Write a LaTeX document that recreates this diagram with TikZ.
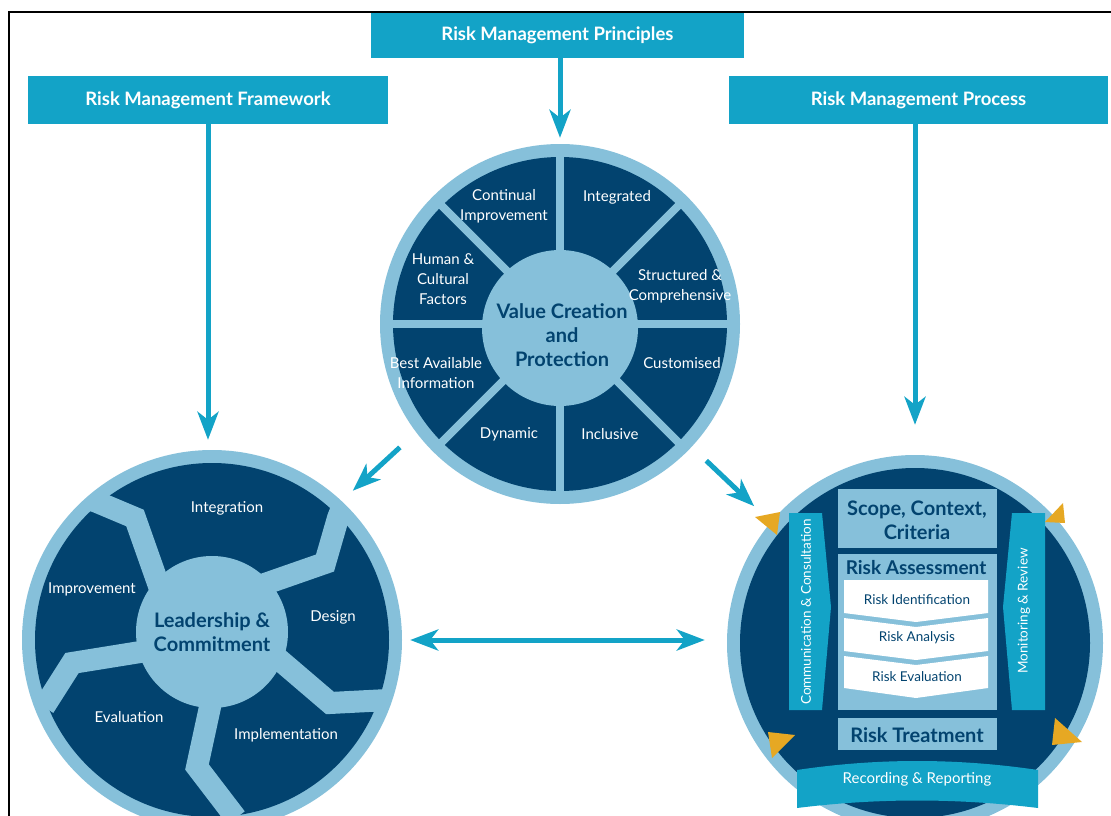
\documentclass[tikz,border=0pt]{standalone}
\usepackage{fontspec}
\setmainfont{Lato}
\usepackage{tikz}
\usetikzlibrary{calc}
\usetikzlibrary{arrows.meta}
\usetikzlibrary{positioning}

\definecolor{rmteal}{RGB}{19,163,199}
\definecolor{rmnavy}{RGB}{2,67,111}
\definecolor{rmring}{RGB}{134,192,218}
\definecolor{rmgold}{RGB}{230,168,35}

\newcommand{\hdrfont}{\fontsize{18.5}{20}\selectfont\bfseries}
\newcommand{\segfont}{\fontsize{15}{20}\selectfont}
\newcommand{\hubfont}{\fontsize{20}{24}\selectfont\bfseries}
\newcommand{\stepfont}{\fontsize{13.5}{16}\selectfont}

\begin{document}
\begin{tikzpicture}[x=1pt,y=-1pt,
  hdr/.style={fill=rmteal, text=white, font=\hdrfont, inner sep=0pt, minimum height=48pt},
  arr/.style={draw=rmteal, line width=5pt, -{Stealth[length=28pt,width=21pt,inset=8pt]}},
  darr/.style={draw=rmteal, line width=5pt, {Stealth[length=28pt,width=21pt,inset=8pt]}-{Stealth[length=28pt,width=21pt,inset=8pt]}},
  wheel/.style={circle, fill=rmring, inner sep=0pt},
  seg/.style={text=white, font=\segfont, align=center},
  hub/.style={text=rmnavy, font=\hubfont, align=center},
  spoke/.style={draw=rmring, line width=8pt},
  band/.style={draw=rmring, line width=22pt, line join=miter},
  stepbox/.style={fill=white},
  steptxt/.style={text=rmnavy, font=\stepfont}]
      \useasboundingbox (0,0) rectangle (1111,816);
      \draw[line width=2.5pt] (9,816) -- (9,12) -- (1111,12);

      \node[hdr, minimum width=373pt, minimum height=45pt] (prin) at (557.5,35.5) {Risk Management Principles};
      \node[hdr, minimum width=360pt] (frame) at (208,100) {Risk Management Framework};
      \node[hdr, minimum width=379pt] (proc) at (918.5,100) {Risk Management Process};

      \node[wheel, minimum size=360pt] (val) at (560,324) {};
      \fill[rmnavy] (val) circle (167);
      \foreach \a in {0,45,...,315} \draw[spoke] (val.center) -- ++(\a:168);
      \fill[rmring] (560,328) circle (78);
      \node[hub] (valtxt) at (562,335) {Value Creation\\and\\Protection};
      \node[seg] (cont) at (504,206) {Continual\\Improvement};
      \node[seg] (integ) at (617,197) {Integrated};
      \node[seg] (struc) at (680,286) {Structured \&\\Comprehensive};
      \node[seg] (cust) at (682,363) {Customised};
      \node[seg] (incl) at (610,434) {Inclusive};
      \node[seg] (dyn) at (509,434) {Dynamic};
      \node[seg] (best) at (436,373) {Best Available\\Information};
      \node[seg] (human) at (443,279) {Human \&\\Cultural\\Factors};

      \node[wheel, minimum size=380pt] (lead) at (212,640) {};
      \fill[rmnavy] (lead) circle (177);
      \begin{scope}
        \clip (lead) circle (182);
        \draw[band] (165,603) -- (135,518) -- (97,502) -- (82,496);
        \draw[band] (239,593) -- (325,563) -- (338,518) -- (345,500);
        \draw[band] (261,644) -- (330,703) -- (388,700);
        \draw[band] (215,684) -- (197,767) -- (236,818);
        \draw[band] (165,648) -- (72,663) -- (44,707);
      \end{scope}
      \fill[rmring] (212,632) circle (76);
      \node[hub] (leadtxt) at (212,632) {Leadership \&\\Commitment};
      \node[seg] (integr) at (227,508) {Integration};
      \node[seg] (impr) at (92,589) {Improvement};
      \node[seg] (design) at (333,617) {Design};
      \node[seg] (evalu) at (129,717) {Evaluation};
      \node[seg] (impl) at (286,735) {Implementation};

      \node[wheel, minimum size=376pt] (cyc) at (915,643) {};
      \fill[rmnavy] (cyc) circle (175);
      \fill[rmring] (838,489) rectangle (997,548);
      \fill[rmring] (838,554) rectangle (997,710);
      \fill[rmring] (838,718) rectangle (997,750);
      \node[hub] (scope) at (917,520) {Scope, Context,\\Criteria};
      \node[hub, font=\fontsize{19}{22}\selectfont\bfseries] (assess) at (916,568) {Risk Assessment};
      \node[hub] (treat) at (917,735) {Risk Treatment};
      \fill[stepbox] (844,580) -- (988,580) -- (988,613) -- (916,622) -- (844,613) -- cycle;
      \fill[stepbox] (844,618) -- (916,627) -- (988,618) -- (988,651) -- (916,660) -- (844,651) -- cycle;
      \fill[stepbox] (844,656) -- (916,665) -- (988,656) -- (988,688) -- (916,698) -- (844,688) -- cycle;
      \node[steptxt] (ident) at (917,600) {Risk Identification};
      \node[steptxt] (anal) at (917,638) {Risk Analysis};
      \node[steptxt] (evalr) at (917,677) {Risk Evaluation};
      \fill[rmteal] (789,513) -- (822,513) -- (831,607) -- (822,710) -- (789,710) -- cycle;
      \fill[rmteal] (1012,513) -- (1045,513) -- (1045,710) -- (1012,710) -- (1003,607) -- cycle;
      \node[rotate=90, text=white, font=\stepfont] (comm) at (806,612) {Communication \& Consultation};
      \node[rotate=90, text=white, font=\stepfont] (moni) at (1024,611) {Monitoring \& Review};
      \fill[rmgold] (755,517) -- (780,512) -- (777,535) -- cycle;
      \fill[rmgold] (1045,522) -- (1063,503) -- (1065,523) -- cycle;
      \fill[rmgold] (768,732) -- (795,735) -- (772,758) -- cycle;
      \fill[rmgold] (1055,718) -- (1082,742) -- (1052,745) -- cycle;
      \fill[rmteal] (797,770) .. controls (877,758) and (957,758) .. (1038,770) -- (1038,808) .. controls (957,798) and (877,798) .. (797,808) -- cycle;
      \node[text=white, font=\fontsize{15}{18}\selectfont] (rec) at (917,779) {Recording \& Reporting};

      \draw[arr, shorten >=6pt] (prin.south -| val.north) -- (val.north);
      \draw[arr, shorten >=10pt] (frame.south) -- (frame.south |- lead.north);
      \draw[arr, shorten >=30pt] (proc.south -| cyc.north) -- (cyc.north);
      \draw[arr, shorten <=22pt, shorten >=15pt] (val.217) -- (lead.47);
      \draw[arr, shorten <=20pt, shorten >=23pt] (val.-43) -- (cyc.140);
      \draw[darr, shorten <=8pt, shorten >=22pt] (lead.east) -- (lead.east -| cyc.west);
  \end{tikzpicture}
\end{document}
